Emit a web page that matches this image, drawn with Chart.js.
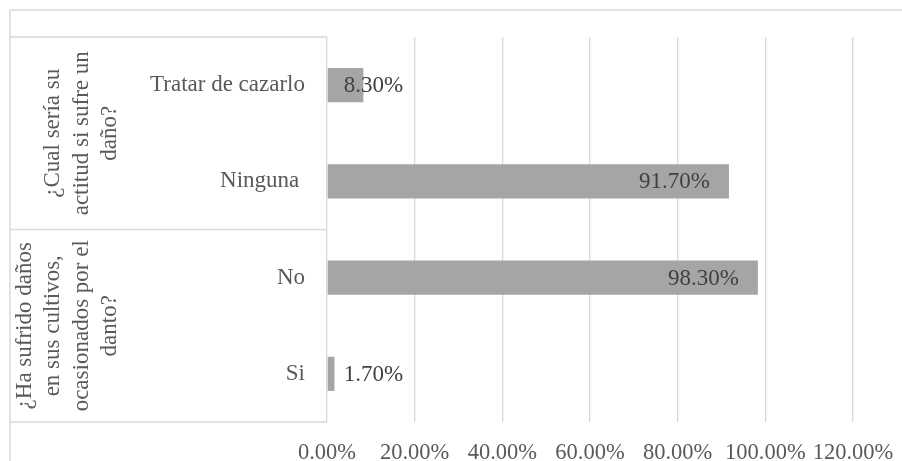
<!DOCTYPE html>
<html>
<head>
<meta charset="utf-8">
<script src="https://cdn.jsdelivr.net/npm/chart.js@4"></script>
<style>
  html, body { margin: 0; padding: 0; background: #ffffff; }
  canvas { display: block; }
</style>
</head>
<body>
<canvas id="c" width="902" height="461"></canvas>
<script>
// ---- data ----
const categories = ["Tratar de cazarlo", "Ninguna ", "No", "Si"];
const values = [0.083, 0.917, 0.983, 0.017];
const valueLabels = ["8.30%", "91.70%", "98.30%", "1.70%"];
const groupLabels = [
  ["¿Cual sería su", "actitud si sufre un", "daño?"],
  ["¿Ha sufrido daños", "en sus cultivos,", "ocasionados por el", "danto?"]
];
const groupSpans = [[0, 1], [2, 3]];
const xTicks = [0, 0.2, 0.4, 0.6, 0.8, 1.0, 1.2];

const FONT = "'Liberation Serif', 'Times New Roman', serif";
const TEXT = "#595959";
const GRID = "#d9d9d9";

const framePlugin = {
  id: 'frame',
  beforeDraw(chart) {
    const ctx = chart.ctx;
    ctx.save();
    ctx.strokeStyle = GRID;
    ctx.lineWidth = 1.5;
    ctx.beginPath();
    ctx.moveTo(10, 461); ctx.lineTo(10, 10); ctx.lineTo(902, 10);
    ctx.stroke();
    ctx.restore();
  },
  afterDraw(chart) {
    const ctx = chart.ctx;
    const ys = chart.scales.y;
    const area = chart.chartArea;
    ctx.save();
    ctx.strokeStyle = GRID;
    ctx.lineWidth = 1.3;
    const bounds = [area.top];
    groupSpans.forEach((span, i) => {
      if (i < groupSpans.length - 1) {
        const a = ys.getPixelForValue(span[1]);
        const b = ys.getPixelForValue(groupSpans[i + 1][0]);
        bounds.push((a + b) / 2);
      }
    });
    bounds.push(area.bottom);
    ctx.beginPath();
    bounds.forEach(y => { ctx.moveTo(10, y); ctx.lineTo(area.left, y); });
    ctx.stroke();
    ctx.fillStyle = TEXT;
    ctx.font = "23px " + FONT;
    ctx.textAlign = 'center';
    ctx.textBaseline = 'middle';
    const lh = 28.5;
    groupLabels.forEach((lines, i) => {
      const yc = (bounds[i] + bounds[i + 1]) / 2;
      const n = lines.length;
      lines.forEach((ln, j) => {
        const x = 110 - (n - 1 - j) * lh;
        ctx.save();
        ctx.translate(x, yc);
        ctx.rotate(-Math.PI / 2);
        ctx.fillText(ln, 0, 0);
        ctx.restore();
      });
    });
    ctx.restore();
  },
  afterDatasetsDraw(chart) {
    const ctx = chart.ctx;
    const meta = chart.getDatasetMeta(0);
    ctx.save();
    ctx.font = "23px " + FONT;
    ctx.fillStyle = "#404040";
    ctx.textBaseline = 'middle';
    meta.data.forEach((bar, i) => {
      const txt = valueLabels[i];
      const w = ctx.measureText(txt).width;
      let right = bar.x - 19;
      let left = right - w;
      if (left < bar.base + 16) left = bar.base + 16;
      ctx.textAlign = 'left';
      ctx.fillText(txt, left, bar.y + 1);
    });
    ctx.restore();
  }
};

new Chart(document.getElementById('c'), {
  type: 'bar',
  data: {
    labels: categories,
    datasets: [{
      data: values,
      backgroundColor: '#a5a5a5',
      borderWidth: 0,
      categoryPercentage: 1,
      barPercentage: 0.355
    }]
  },
  options: {
    indexAxis: 'y',
    responsive: false,
    animation: false,
    layout: { padding: { left: 10, top: 37, right: 49, bottom: 0 } },
    plugins: { legend: { display: false }, tooltip: { enabled: false } },
    scales: {
      x: {
        min: 0, max: 1.2,
        afterBuildTicks(scale) { scale.ticks = xTicks.map(v => ({ value: v })); },
        afterFit(scale) {
          scale.height = 39;
          scale.paddingLeft = 0;
          scale.paddingRight = 0;
        },
        grid: { color: GRID, lineWidth: 1.3, drawTicks: false },
        border: { display: false },
        ticks: {
          color: TEXT,
          font: { family: FONT, size: 22.5 },
          padding: 18,
          maxRotation: 0,
          callback: v => (v * 100).toFixed(2) + '%'
        }
      },
      y: {
        afterFit(scale) { scale.width = 317; },
        grid: { display: false },
        border: { display: false },
        ticks: {
          color: TEXT,
          font: { family: FONT, size: 23 },
          padding: 14,
          autoSkip: false
        }
      }
    }
  },
  plugins: [framePlugin]
});
</script>
</body>
</html>
